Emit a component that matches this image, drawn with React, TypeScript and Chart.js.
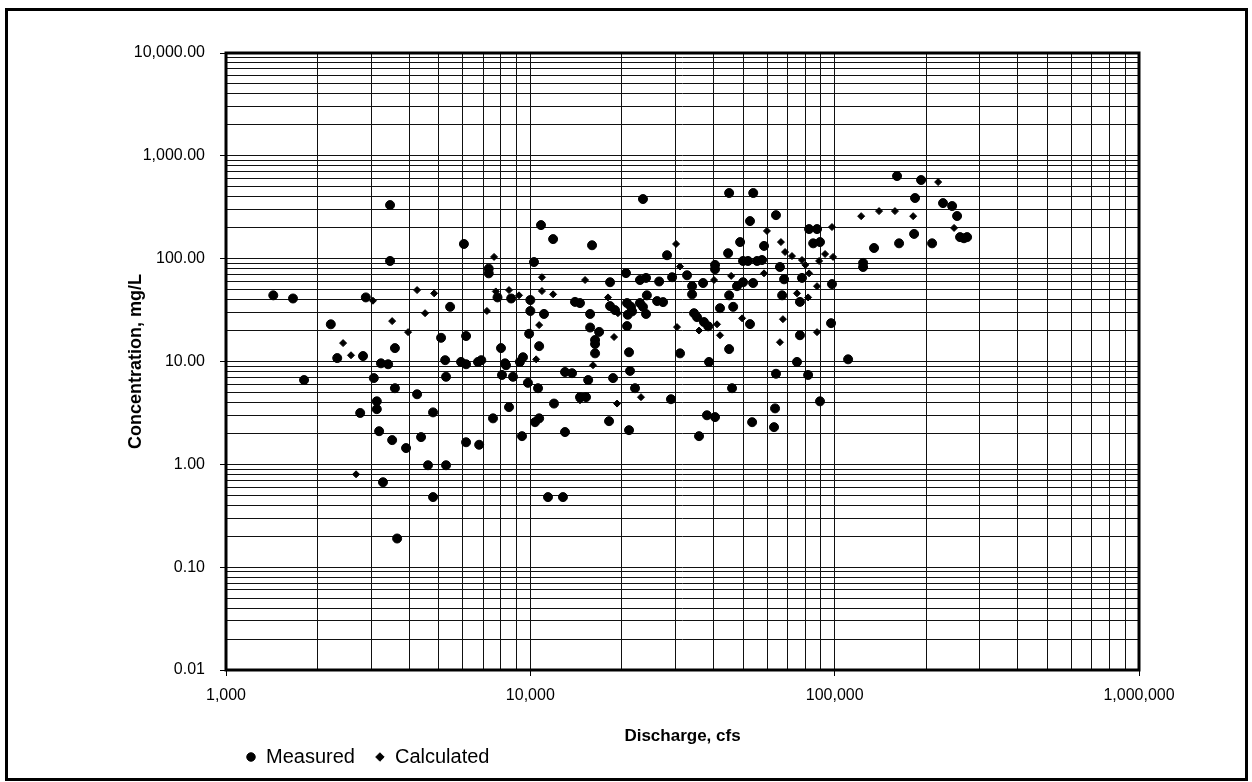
import { useEffect, useRef } from 'react';
import Chart from 'chart.js/auto';

// discharge (cfs) and concentration (mg/L)
const measuredQ = [
  3460, 6050, 3460, 7300, 7300, 1430, 1660, 2880, 5450, 2210,
  2320, 2820, 3590, 5090, 6150, 8010, 3230, 3410, 5250, 5920,
  6150, 6730, 6900, 8260, 7800, 8650, 1805, 3060, 3590, 4245,
  3130, 3130, 2760, 4790, 3185, 3515, 4375, 3905, 6150, 6790,
  4610, 5285, 3280, 4790, 3650, 7540, 8510, 8070, 8770, 5285,
  23450, 45000, 54000, 10840, 11880, 15950, 52700, 64150, 48900, 44650,
  58600, 28130, 10280, 40450, 40450, 50000, 51900, 55600, 66100, 68200,
  67200, 20620, 18280, 22920, 24000, 26500, 29230, 32730, 34000, 34000,
  36950, 47760, 50000, 53950, 45000, 14020, 14560, 10000, 10000, 11090,
  9910, 10690, 9460, 9240, 15720, 15720, 16830, 16320, 16320, 16320,
  18280, 18980, 20790, 21420, 21600, 20900, 22920, 24150, 23450, 24000,
  20790, 21100, 26100, 27300, 31040, 34500, 35300, 37200, 38400, 38650,
  42000, 46400, 52700, 45000, 8320, 9390, 9820, 10600, 10360, 10690,
  11960, 13000, 13000, 13710, 15490, 14560, 15240, 18700, 18140, 21260,
  22080, 21100, 28980, 35840, 38050, 40450, 46000, 53550, 64150, 63700,
  63200, 11430, 12800, 160300, 192300, 183700, 227000, 243200, 252500, 258200,
  266000, 272400, 82400, 87500, 85000, 89500, 57700, 78100, 76900, 98000,
  97300, 76900, 134700, 124000, 124000, 162800, 182400, 209000, 110700, 75200,
  81800, 89500,
];
const measuredC = [
  332, 139, 95, 80, 72, 44, 41, 42, 34, 23,
  10.8, 11.3, 13.5, 17, 17.7, 13.5, 9.6, 9.4, 10.3, 9.9,
  9.4, 9.9, 10.3, 9.6, 42, 41, 6.6, 6.9, 5.5, 4.8,
  4.1, 3.44, 3.16, 3.2, 2.1, 1.72, 1.84, 1.44, 1.64, 1.55,
  0.98, 0.98, 0.67, 0.48, 0.19, 2.8, 3.6, 7.4, 7.1, 7.1,
  380, 435, 435, 212, 155, 135, 232, 265, 145, 113,
  133, 108, 92.7, 87, 79, 95, 95, 95, 83, 63,
  44, 72.4, 59, 62, 65, 60, 66, 69, 54, 45,
  58, 54, 59, 58, 44, 38, 37, 39.6, 31, 29,
  18.6, 14.1, 11, 9.9, 29, 21.4, 19.4, 16.2, 14.8, 12,
  34.6, 31.6, 37, 34, 30.7, 28.5, 37, 44, 34, 29,
  22.1, 12.3, 38.7, 37.8, 12, 29.5, 27, 24.2, 22, 9.9,
  33, 34, 23.1, 13.2, 9.2, 1.88, 6.2, 5.5, 2.57, 2.8,
  3.9, 2.06, 7.9, 7.7, 6.6, 4.5, 4.5, 6.9, 2.63, 8.1,
  5.5, 2.15, 4.3, 1.88, 3.0, 2.88, 5.5, 2.57, 7.6, 3.5,
  2.3, 0.48, 0.48, 636, 582, 389, 347, 325, 260, 162,
  158, 162, 194, 194, 141, 145, 97, 65, 38, 56.6,
  23.6, 18, 127, 91, 83, 141, 174, 141, 10.5, 9.9,
  7.4, 4.1,
];

const calculatedQ = [
  7600, 4245, 4830, 7700, 8510, 4510, 7200, 3515, 3965, 2425,
  2575, 3040, 2675, 30120, 59900, 66600, 68700, 15130, 10920, 9180,
  10920, 11880, 18000, 19400, 10690, 18840, 10450, 16070, 30340, 35840,
  41060, 42000, 40150, 45700, 49640, 67600, 66100, 31040, 14560, 19270,
  23100, 218800, 122200, 139900, 157800, 181100, 246800, 98000, 72400, 78100,
  80100, 88900, 93000, 98800, 58600, 82400, 75200, 81800, 87500, 87500,
];
const calculatedC = [
  104, 49.5, 46, 48, 49.5, 29.5, 31, 24.7, 19.3, 15.1,
  11.5, 39, 0.8, 139, 186, 145, 116, 62, 66, 44,
  48.4, 45, 42, 29.5, 22.6, 17.3, 10.5, 9.2, 21.6, 20,
  23, 18, 62, 68, 26.3, 25.8, 15.4, 84, 4.2, 3.9,
  4.5, 556, 259, 290, 290, 259, 199, 203, 106, 97,
  87, 95, 111, 104, 72, 72, 46, 42, 54, 19.3,
];

// log grid: 1..9 times each decade
const xDecades = [1000, 10000, 100000];
const yDecades = [0.01, 0.1, 1, 10, 100, 1000];
const steps = [1, 2, 3, 4, 5, 6, 7, 8, 9];

const FONT = "Arial, 'Liberation Sans', sans-serif";

const isDecade = (v: number) => Math.abs(Math.log10(v) - Math.round(Math.log10(v))) < 1e-9;
const withCommas = (s: string) => s.replace(/\B(?=(\d{3})+(?!\d))/g, ',');
const fmtX = (v: number) => withCommas(String(Math.round(v)));
const fmtY = (v: number) => {
  const [i, d] = v.toFixed(2).split('.');
  return withCommas(i) + '.' + d;
};

const gridTicks = (decades: number[]) => {
  const out: number[] = [];
  decades.forEach((d) => steps.forEach((s) => out.push(+(d * s).toPrecision(6))));
  out.push(decades[decades.length - 1] * 10);
  return out;
};

const framePlugin = {
  id: 'frame',
  beforeDatasetsDraw(chart: any) {
    const { ctx, chartArea: a } = chart;
    ctx.save();
    ctx.strokeStyle = '#000';
    ctx.lineWidth = 3;
    ctx.strokeRect(a.left, a.top, a.right - a.left, a.bottom - a.top);
    ctx.strokeRect(6.5, 9.5, 1240, 770);
    ctx.restore();
  },
};

export default function App() {
  const canvasRef = useRef<HTMLCanvasElement>(null);

  useEffect(() => {
    const canvas = canvasRef.current;
    if (!canvas) return;

    const chart = new Chart(canvas, {
      type: 'scatter',
      data: {
        datasets: [
          {
            label: 'Measured',
            data: measuredQ.map((q, i) => ({ x: q, y: measuredC[i] })),
            pointStyle: 'circle',
            pointRadius: 4.5,
            borderWidth: 1,
            backgroundColor: '#000',
            borderColor: '#000',
          },
          {
            label: 'Calculated',
            data: calculatedQ.map((q, i) => ({ x: q, y: calculatedC[i] })),
            pointStyle: 'rectRot',
            pointRadius: 3.5,
            borderWidth: 1,
            backgroundColor: '#000',
            borderColor: '#000',
          },
        ],
      },
      options: {
        animation: false,
        responsive: true,
        maintainAspectRatio: false,
        events: [],
        layout: { padding: { left: 10, top: 53, right: 113, bottom: 5 } },
        scales: {
          x: {
            type: 'logarithmic',
            min: 1000,
            max: 1000000,
            afterBuildTicks: (scale: any) => {
              scale.ticks = gridTicks(xDecades).map((value) => ({ value }));
            },
            afterFit: (scale: any) => {
              scale.height = 57;
            },
            ticks: {
              autoSkip: false,
              maxRotation: 0,
              padding: 10,
              color: '#000',
              font: { family: FONT, size: 16 },
              callback: (v: any) => (isDecade(Number(v)) ? fmtX(Number(v)) : ''),
            },
            grid: {
              color: '#111',
              lineWidth: 1,
              tickLength: 6,
              tickColor: (ctx: any) => (ctx.tick && isDecade(ctx.tick.value) ? '#000' : 'rgba(0,0,0,0)'),
            },
            border: { display: false },
            title: {
              display: true,
              text: 'Discharge, cfs',
              color: '#000',
              font: { family: FONT, size: 17, weight: 'bold' },
              padding: { top: 0, bottom: -20 },
            },
          },
          y: {
            type: 'logarithmic',
            min: 0.01,
            max: 10000,
            afterBuildTicks: (scale: any) => {
              scale.ticks = gridTicks(yDecades).map((value) => ({ value }));
            },
            afterFit: (scale: any) => {
              scale.width = 216;
            },
            ticks: {
              autoSkip: false,
              padding: 15,
              color: '#000',
              font: { family: FONT, size: 16 },
              callback: (v: any) => (isDecade(Number(v)) ? fmtY(Number(v)) : ''),
            },
            grid: {
              color: '#111',
              lineWidth: 1,
              tickLength: 6,
              tickColor: (ctx: any) => (ctx.tick && isDecade(ctx.tick.value) ? '#000' : 'rgba(0,0,0,0)'),
            },
            border: { display: false },
            title: {
              display: true,
              text: 'Concentration, mg/L',
              color: '#000',
              font: { family: FONT, size: 18, weight: 'bold' },
              padding: { top: 115, bottom: 0 },
            },
          },
        },
        plugins: {
          legend: {
            position: 'bottom',
            align: 'start',
            fullSize: false,
            labels: {
              usePointStyle: true,
              boxWidth: 10,
              boxHeight: 6,
              padding: 20,
              color: '#000',
              font: { family: FONT, size: 20 },
            },
          },
          tooltip: { enabled: false },
        },
      },
      plugins: [framePlugin],
    });

    return () => {
      chart.destroy();
    };
  }, []);

  return (
    <div style={{ position: 'absolute', left: 0, top: 0, width: 1252, height: 782, background: '#fff' }}>
      <canvas ref={canvasRef} />
    </div>
  );
}
